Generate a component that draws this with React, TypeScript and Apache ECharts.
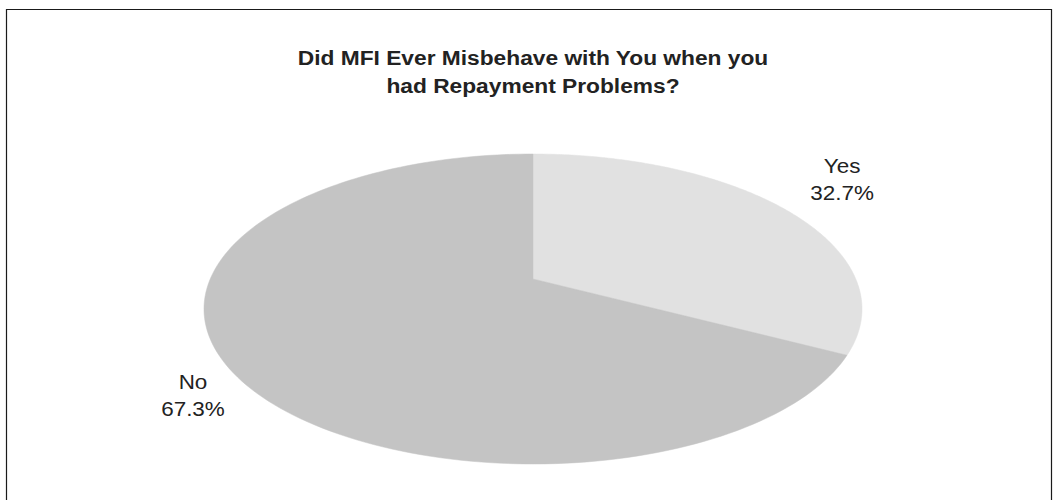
import React, { useEffect, useRef } from "react";
import * as echarts from "echarts";

const titleLines = ["Did MFI Ever Misbehave with You when you", "had Repayment Problems?"];
const categories = ["Yes", "No"];
const values = [32.7, 67.3];
const sliceColors = ["#e1e1e1", "#c4c4c4"];

// perspective pie geometry (styling)
const PIE_CX = 533;
const PIE_CY = 279;
const RX = 322.8;
const RY = 149.2;
const PERSP = 0.1935;
const labelOffsets = [
  [58, -29.5],
  [-33, 30.5],
];

function project(theta: number, r: number): [number, number] {
  const X = Math.sin(theta) * r;
  const Z = Math.cos(theta) * r;
  const d = 1 + PERSP * Z;
  return [PIE_CX + (RX * X) / d, PIE_CY - (RY * Z) / d];
}

export default function App() {
  const ref = useRef<HTMLDivElement>(null);
  useEffect(() => {
    document.body.style.margin = "0";
    const chart = echarts.init(ref.current!, undefined, { renderer: "svg" });
    const total = values.reduce((a, b) => a + b, 0);
    const pct = values.map((v) => ((v / total) * 100).toFixed(1) + "%");
    chart.setOption({
      animation: false,
      backgroundColor: "#ffffff",
      graphic: [
        {
          type: "rect",
          shape: { x: 6.5, y: 9.5, width: 1045, height: 520 },
          style: { fill: "none", stroke: "#1a1a1a", lineWidth: 1.2 },
          z: 0,
        },
        {
          type: "text",
          x: 533,
          y: 44,
          scaleX: 1.11,
          style: {
            text: titleLines.join("\n"),
            font: "bold 20.5px 'Liberation Sans', Arial, sans-serif",
            fill: "#222222",
            align: "center",
            verticalAlign: "top",
            lineHeight: 28,
          },
        },
      ],
      series: [
        {
          type: "custom",
          coordinateSystem: "none",
          data: values.map((v, i) => ({ name: categories[i], value: v })),
          renderItem: (params: any, api: any) => {
            const i = params.dataIndex;
            const before = values.slice(0, i).reduce((a, b) => a + b, 0);
            const v = api.value(0);
            const a0 = (before / total) * Math.PI * 2;
            const a1 = ((before + v) / total) * Math.PI * 2;
            const pts: number[][] = [project(0, 0)];
            const n = 160;
            for (let k = 0; k <= n; k++) {
              const t = a0 + ((a1 - a0) * k) / n;
              pts.push(project(t, 1));
            }
            const mid = (a0 + a1) / 2;
            const edge = project(mid, 1);
            return {
              type: "group",
              children: [
                {
                  type: "polygon",
                  shape: { points: pts },
                  style: { fill: sliceColors[i], stroke: sliceColors[i], lineWidth: 0.5 },
                },
                {
                  type: "text",
                  x: edge[0] + labelOffsets[i][0],
                  y: edge[1] + labelOffsets[i][1],
                  scaleX: 1.07,
                  style: {
                    text: categories[i] + "\n" + pct[i],
                    font: "21px 'Liberation Sans', Arial, sans-serif",
                    fill: "#222222",
                    align: "center",
                    verticalAlign: "middle",
                    lineHeight: 27,
                  },
                },
              ],
            };
          },
        },
      ],
    });
    return () => chart.dispose();
  }, []);
  return (
    <div
      ref={ref}
      style={{ position: "fixed", left: 0, top: 0, width: 1059, height: 500 }}
    />
  );
}
